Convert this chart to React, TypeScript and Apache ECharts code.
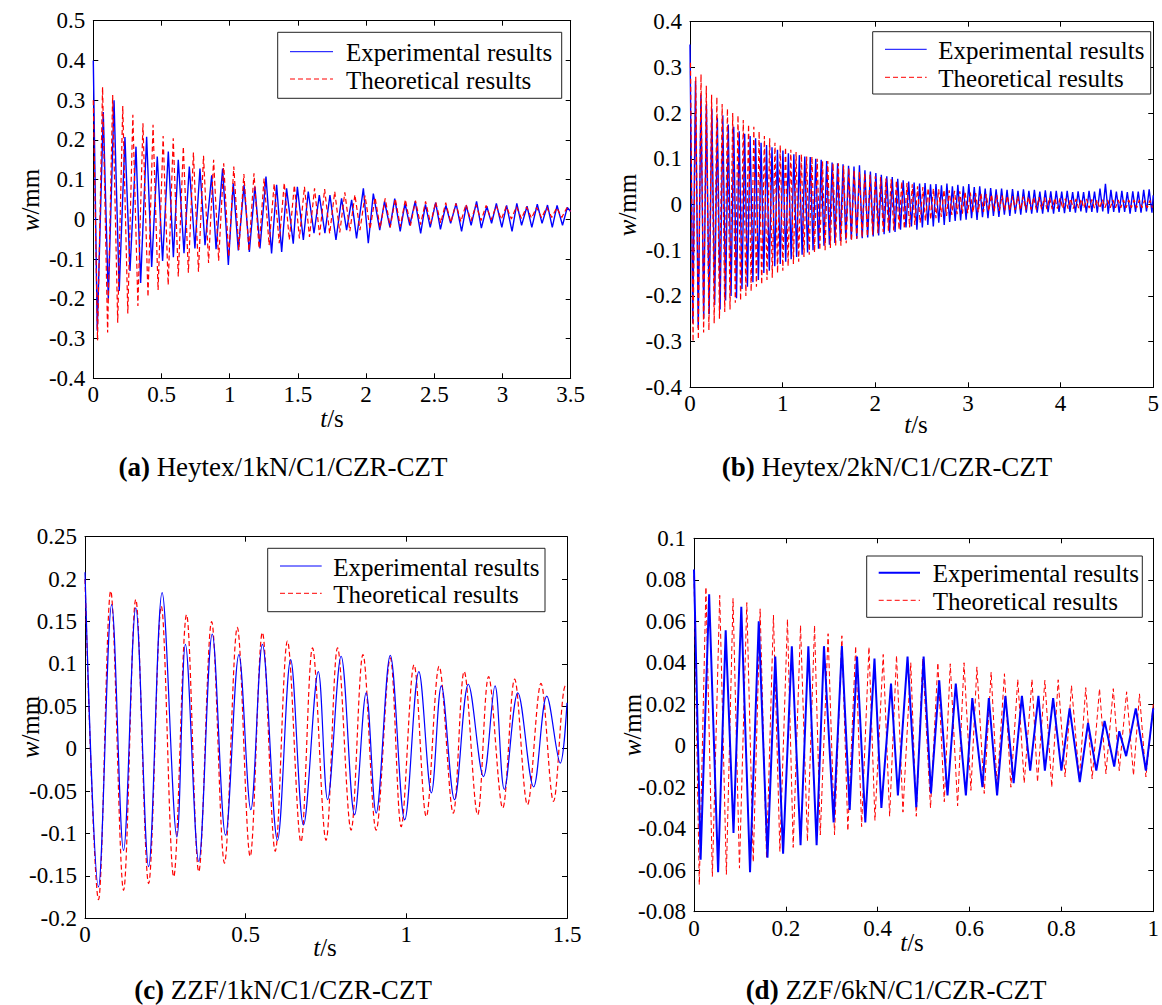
import React, { useEffect, useRef } from "react";
import * as echarts from "echarts";

const FONT = '"Liberation Serif", "Times New Roman", serif';
const BLUE = "#0000ff";
const RED = "#ff0000";

// ---------- panel captions / legend labels ----------
const captionLetters = ["(a)", "(b)", "(c)", "(d)"];
const captionTexts = [
  " Heytex/1kN/C1/CZR-CZT",
  " Heytex/2kN/C1/CZR-CZT",
  " ZZF/1kN/C1/CZR-CZT",
  " ZZF/6kN/C1/CZR-CZT",
];
const legendLabels = ["Experimental results", "Theoretical results"];

// ---------- axis ranges [min, max, interval] ----------
const xRanges = [
  [0, 3.5, 0.5],
  [0, 5, 1],
  [0, 1.5, 0.5],
  [0, 1, 0.2],
];
const yRanges = [
  [-0.4, 0.5, 0.1],
  [-0.4, 0.4, 0.1],
  [-0.2, 0.25, 0.05],
  [-0.08, 0.1, 0.02],
];

// ---------- (a) Heytex/1kN : [t (s), w (mm)] ----------
const aExperimental = [
  [0, 0.40], [0.029, -0.28], [0.073, 0.27], [0.11, -0.20], [0.152, 0.30], [0.19, -0.18], [0.232, 0.207], [0.269, -0.13],
  [0.313, 0.183], [0.347, -0.16], [0.391, 0.208], [0.428, -0.12], [0.469, 0.158], [0.508, -0.105], [0.55, 0.171], [0.587, -0.095],
  [0.623, 0.15], [0.665, -0.085], [0.704, 0.133], [0.745, -0.073], [0.782, 0.128], [0.819, -0.065], [0.868, 0.111], [0.9, -0.075],
  [0.948, 0.128], [0.99, -0.115], [1.026, 0.091], [1.063, -0.078], [1.105, 0.087], [1.144, -0.082], [1.185, 0.082], [1.222, -0.073],
  [1.266, 0.108], [1.307, -0.086], [1.344, 0.087], [1.381, -0.082], [1.417, 0.078], [1.466, -0.061], [1.496, 0.082], [1.54, -0.052],
  [1.576, 0.07], [1.618, -0.035], [1.657, 0.061], [1.698, -0.035], [1.735, 0.061], [1.779, -0.052], [1.82, 0.053], [1.857, -0.027],
  [1.894, 0.049], [1.93, -0.048], [1.98, 0.078], [2.016, -0.06], [2.053, 0.065], [2.10, -0.027], [2.135, 0.045], [2.175, -0.020],
  [2.21, 0.052], [2.25, -0.03], [2.285, 0.040], [2.32, -0.015], [2.36, 0.045], [2.40, -0.035], [2.435, 0.038], [2.47, -0.02],
  [2.51, 0.042], [2.545, -0.025], [2.585, 0.035], [2.62, -0.01], [2.66, 0.04], [2.70, -0.03], [2.735, 0.035], [2.77, -0.015],
  [2.81, 0.045], [2.845, -0.022], [2.885, 0.033], [2.92, -0.01], [2.955, 0.040], [2.995, -0.02], [3.03, 0.035], [3.07, -0.03],
  [3.105, 0.04], [3.14, -0.015], [3.18, 0.033], [3.215, -0.02], [3.255, 0.038], [3.29, -0.01], [3.33, 0.036], [3.365, -0.02],
  [3.40, 0.035], [3.44, -0.015], [3.475, 0.030], [3.5, 0.02],
];
const aTheoretical = [
  [0, 0.30], [0.031, -0.304], [0.068, 0.333], [0.105, -0.285], [0.142, 0.313], [0.179, -0.260], [0.216, 0.285], [0.253, -0.237],
  [0.290, 0.263], [0.327, -0.218], [0.364, 0.242], [0.401, -0.195], [0.438, 0.238], [0.475, -0.178], [0.512, 0.210], [0.549, -0.165],
  [0.586, 0.204], [0.623, -0.144], [0.660, 0.183], [0.697, -0.134], [0.734, 0.168], [0.771, -0.132], [0.808, 0.160], [0.845, -0.110],
  [0.882, 0.150], [0.919, -0.104], [0.956, 0.141], [0.993, -0.094], [1.030, 0.133], [1.067, -0.077], [1.104, 0.114], [1.141, -0.079],
  [1.178, 0.116], [1.215, -0.073], [1.252, 0.103], [1.289, -0.065], [1.326, 0.090], [1.363, -0.060], [1.400, 0.092], [1.437, -0.052],
  [1.474, 0.086], [1.511, -0.048], [1.548, 0.082], [1.585, -0.044], [1.622, 0.078], [1.659, -0.040], [1.696, 0.076], [1.733, -0.036],
  [1.770, 0.070], [1.807, -0.033], [1.844, 0.068], [1.881, -0.030], [1.918, 0.062], [1.955, -0.027], [1.992, 0.060], [2.029, -0.025],
  [2.066, 0.055], [2.103, -0.022], [2.140, 0.053], [2.177, -0.020], [2.214, 0.052], [2.251, -0.018], [2.288, 0.050], [2.325, -0.016],
  [2.362, 0.047], [2.399, -0.013], [2.436, 0.045], [2.473, -0.011], [2.510, 0.044], [2.547, -0.009], [2.584, 0.042], [2.621, -0.008],
  [2.658, 0.040], [2.695, -0.006], [2.732, 0.038], [2.769, -0.004], [2.806, 0.037], [2.843, -0.003], [2.880, 0.035], [2.917, -0.001],
  [2.954, 0.034], [2.991, 0.000], [3.028, 0.033], [3.065, 0.001], [3.102, 0.032], [3.139, 0.002], [3.176, 0.031], [3.213, 0.003],
  [3.250, 0.030], [3.287, 0.004], [3.324, 0.030], [3.361, 0.005], [3.398, 0.029], [3.435, 0.005], [3.472, 0.029], [3.5, 0.02],
];

// ---------- (b) Heytex/2kN ----------
const bExperimental = [
  [0, 0.35], [0.030, -0.26], [0.059, 0.27], [0.089, -0.27], [0.118, 0.24], [0.148, -0.25], [0.177, 0.22], [0.207, -0.24],
  [0.236, 0.21], [0.266, -0.22], [0.295, 0.19], [0.325, -0.23], [0.354, 0.195], [0.384, -0.21], [0.413, 0.175], [0.443, -0.20],
  [0.472, 0.17], [0.502, -0.205], [0.531, 0.16], [0.561, -0.185], [0.590, 0.155], [0.620, -0.18], [0.649, 0.15], [0.679, -0.17],
  [0.708, 0.145], [0.738, -0.165], [0.767, 0.135], [0.797, -0.15], [0.826, 0.13], [0.856, -0.145], [0.885, 0.125], [0.915, -0.135],
  [0.944, 0.12], [0.974, -0.13], [1.003, 0.118], [1.033, -0.125], [1.062, 0.112], [1.092, -0.12], [1.121, 0.11], [1.151, -0.115],
  [1.180, 0.108], [1.210, -0.11], [1.239, 0.105], [1.269, -0.105], [1.298, 0.104], [1.328, -0.10], [1.357, 0.10], [1.387, -0.097],
  [1.416, 0.098], [1.446, -0.09], [1.475, 0.095], [1.505, -0.088], [1.534, 0.092], [1.564, -0.084], [1.593, 0.09], [1.623, -0.08],
  [1.652, 0.088], [1.682, -0.077], [1.711, 0.085], [1.741, -0.076], [1.770, 0.083], [1.800, -0.075], [1.829, 0.086], [1.859, -0.074],
  [1.888, 0.075], [1.918, -0.072], [1.947, 0.072], [1.977, -0.07], [2.006, 0.069], [2.036, -0.068], [2.065, 0.065], [2.095, -0.065],
  [2.124, 0.062], [2.154, -0.062], [2.183, 0.06], [2.213, -0.06], [2.242, 0.056], [2.272, -0.055], [2.301, 0.053], [2.331, -0.05],
  [2.360, 0.05], [2.390, -0.048], [2.419, 0.048], [2.449, -0.055], [2.478, 0.046], [2.508, -0.05], [2.537, 0.047], [2.567, -0.045],
  [2.596, 0.044], [2.626, -0.048], [2.655, 0.045], [2.685, -0.04], [2.714, 0.042], [2.744, -0.045], [2.773, 0.046], [2.803, -0.038],
  [2.832, 0.04], [2.862, -0.036], [2.891, 0.043], [2.921, -0.035], [2.950, 0.04], [2.980, -0.033], [3.009, 0.045], [3.039, -0.03],
  [3.068, 0.038], [3.098, -0.034], [3.127, 0.04], [3.157, -0.028], [3.186, 0.035], [3.216, -0.03], [3.245, 0.036], [3.275, -0.025],
  [3.304, 0.033], [3.334, -0.027], [3.363, 0.035], [3.393, -0.022], [3.422, 0.032], [3.452, -0.025], [3.481, 0.034], [3.511, -0.02],
  [3.540, 0.03], [3.570, -0.022], [3.599, 0.033], [3.629, -0.018], [3.658, 0.03], [3.688, -0.02], [3.717, 0.032], [3.747, -0.018],
  [3.776, 0.028], [3.806, -0.02], [3.835, 0.031], [3.865, -0.017], [3.894, 0.029], [3.924, -0.02], [3.953, 0.03], [3.983, -0.016],
  [4.012, 0.028], [4.042, -0.019], [4.071, 0.03], [4.101, -0.016], [4.130, 0.027], [4.160, -0.018], [4.189, 0.029], [4.219, -0.015],
  [4.248, 0.027], [4.278, -0.018], [4.307, 0.03], [4.337, -0.016], [4.366, 0.028], [4.396, -0.018], [4.425, 0.035], [4.455, -0.015],
  [4.484, 0.045], [4.514, -0.02], [4.543, 0.032], [4.573, -0.016], [4.602, 0.028], [4.632, -0.018], [4.661, 0.03], [4.691, -0.016],
  [4.720, 0.027], [4.750, -0.02], [4.779, 0.029], [4.809, -0.016], [4.838, 0.028], [4.868, -0.018], [4.897, 0.032], [4.927, -0.015],
  [4.956, 0.033], [4.986, -0.018], [5.0, 0.02],
];
const bTheoretical = [
  [0.005, 0.31], [0.033, -0.30], [0.062, 0.28], [0.090, -0.295], [0.119, 0.285], [0.147, -0.28], [0.176, 0.26], [0.204, -0.275],
  [0.233, 0.24], [0.261, -0.26], [0.290, 0.235], [0.318, -0.25], [0.347, 0.22], [0.375, -0.235], [0.404, 0.21], [0.432, -0.23],
  [0.461, 0.20], [0.489, -0.215], [0.518, 0.195], [0.546, -0.21], [0.575, 0.185], [0.603, -0.20], [0.632, 0.175], [0.660, -0.19],
  [0.689, 0.17], [0.717, -0.18], [0.746, 0.16], [0.774, -0.175], [0.803, 0.15], [0.831, -0.165], [0.860, 0.145], [0.888, -0.16],
  [0.917, 0.135], [0.945, -0.15], [0.974, 0.13], [1.002, -0.145], [1.031, 0.125], [1.059, -0.135], [1.088, 0.12], [1.116, -0.13],
  [1.145, 0.115], [1.173, -0.125], [1.202, 0.11], [1.230, -0.115], [1.259, 0.105], [1.287, -0.11], [1.316, 0.105], [1.344, -0.105],
  [1.373, 0.10], [1.401, -0.10], [1.430, 0.095], [1.458, -0.10], [1.487, 0.095], [1.515, -0.095], [1.544, 0.09], [1.572, -0.09],
  [1.601, 0.09], [1.629, -0.09], [1.658, 0.085], [1.686, -0.085], [1.715, 0.08], [1.743, -0.08], [1.772, 0.075], [1.800, -0.075],
  [1.829, 0.072], [1.857, -0.072], [1.886, 0.068], [1.914, -0.07], [1.943, 0.065], [1.971, -0.066], [2.000, 0.062], [2.028, -0.063],
  [2.057, 0.06], [2.085, -0.06], [2.114, 0.057], [2.142, -0.058], [2.171, 0.055], [2.199, -0.057], [2.228, 0.052], [2.256, -0.055],
  [2.285, 0.05], [2.313, -0.053], [2.342, 0.047], [2.370, -0.05], [2.399, 0.044], [2.427, -0.045], [2.456, 0.04], [2.484, -0.04],
  [2.513, 0.038], [2.541, -0.036], [2.570, 0.036], [2.598, -0.033], [2.627, 0.035], [2.655, -0.03], [2.684, 0.033], [2.712, -0.027],
  [2.741, 0.032], [2.769, -0.025], [2.798, 0.031], [2.826, -0.023], [2.855, 0.03], [2.883, -0.021], [2.912, 0.029], [2.940, -0.02],
  [2.969, 0.028], [2.997, -0.019], [3.026, 0.026], [3.054, -0.018], [3.083, 0.025], [3.111, -0.017], [3.140, 0.024], [3.168, -0.016],
  [3.197, 0.023], [3.225, -0.015], [3.254, 0.022], [3.282, -0.015], [3.311, 0.021], [3.339, -0.014], [3.368, 0.02], [3.396, -0.013],
  [3.425, 0.019], [3.453, -0.013], [3.482, 0.018], [3.510, -0.012], [3.539, 0.018], [3.567, -0.012], [3.596, 0.017], [3.624, -0.011],
  [3.653, 0.017], [3.681, -0.011], [3.710, 0.016], [3.738, -0.011], [3.767, 0.016], [3.795, -0.010], [3.824, 0.015], [3.852, -0.010],
  [3.881, 0.015], [3.909, -0.010], [3.938, 0.014], [3.966, -0.009], [3.995, 0.014], [4.023, -0.009], [4.052, 0.013], [4.080, -0.009],
  [4.109, 0.013], [4.137, -0.009], [4.166, 0.012], [4.194, -0.008], [4.223, 0.012], [4.251, -0.008], [4.280, 0.012], [4.308, -0.008],
  [4.337, 0.011], [4.365, -0.008], [4.394, 0.011], [4.422, -0.008], [4.451, 0.011], [4.479, -0.007], [4.508, 0.010], [4.536, -0.007],
  [4.565, 0.010], [4.593, -0.007], [4.622, 0.010], [4.650, -0.007], [4.679, 0.010], [4.707, -0.007], [4.736, 0.010], [4.764, -0.007],
  [4.793, 0.010], [4.821, -0.007], [4.850, 0.010], [4.878, -0.007], [4.907, 0.009], [4.935, -0.007], [4.964, 0.009], [4.992, -0.007],
];

// ---------- (c) ZZF/1kN ----------
const cExperimental = [
  [0, 0.208], [0.042, -0.163], [0.083, 0.170], [0.12, -0.12], [0.158, 0.166], [0.198, -0.139], [0.24, 0.184], [0.286, -0.104],
  [0.3125, 0.123], [0.354, -0.133], [0.396, 0.135], [0.4375, -0.102], [0.479, 0.111], [0.516, -0.072], [0.552, 0.123], [0.599, -0.108],
  [0.64, 0.105], [0.68, -0.09], [0.726, 0.091], [0.755, -0.06], [0.797, 0.109], [0.839, -0.078], [0.875, 0.066], [0.906, -0.076],
  [0.95, 0.11], [0.995, -0.084], [1.039, 0.091], [1.078, -0.052], [1.109, 0.074], [1.15, -0.06], [1.193, 0.076], [1.24, -0.033],
  [1.276, 0.074], [1.305, -0.048], [1.347, 0.066], [1.396, -0.045], [1.437, 0.062], [1.479, -0.017], [1.5, 0.054],
];
const cTheoretical = [
  [0, 0.2], [0.042, -0.178], [0.080, 0.186], [0.12, -0.167], [0.158, 0.176], [0.198, -0.159], [0.2375, 0.168], [0.276, -0.151],
  [0.316, 0.158], [0.354, -0.145], [0.394, 0.150], [0.434, -0.135], [0.474, 0.143], [0.514, -0.127], [0.552, 0.137], [0.592, -0.121],
  [0.630, 0.127], [0.672, -0.11], [0.708, 0.119], [0.75, -0.108], [0.786, 0.119], [0.828, -0.096], [0.865, 0.111], [0.906, -0.096],
  [0.95, 0.107], [0.984, -0.092], [1.024, 0.099], [1.062, -0.08], [1.102, 0.097], [1.146, -0.076], [1.18, 0.091], [1.222, -0.078],
  [1.256, 0.085], [1.3, -0.07], [1.337, 0.082], [1.377, -0.066], [1.419, 0.077], [1.458, -0.062], [1.495, 0.074], [1.5, 0.072],
];

// ---------- (d) ZZF/6kN ----------
const dExperimental = [
  [0, 0.085], [0.0144, -0.055], [0.033, 0.073], [0.0525, -0.061], [0.069, 0.0556], [0.086, -0.042], [0.103, 0.067], [0.122, -0.061],
  [0.141, 0.060], [0.160, -0.054], [0.177, 0.043], [0.194, -0.052], [0.213, 0.048], [0.232, -0.048], [0.249, 0.048], [0.267, -0.048],
  [0.283, 0.048], [0.304, -0.037], [0.322, 0.048], [0.339, -0.031], [0.355, 0.043], [0.373, -0.037], [0.393, 0.042], [0.408, -0.030],
  [0.429, 0.030], [0.444, -0.024], [0.465, 0.043], [0.484, -0.0296], [0.500, 0.043], [0.516, -0.023], [0.534, 0.0315], [0.552, -0.024],
  [0.570, 0.030], [0.592, -0.024], [0.606, 0.023], [0.628, -0.020], [0.642, 0.023], [0.660, -0.024], [0.678, 0.024], [0.696, -0.018],
  [0.714, 0.024], [0.732, -0.012], [0.75, 0.024], [0.764, -0.012], [0.782, 0.023], [0.80, -0.012], [0.818, 0.018], [0.84, -0.0175],
  [0.858, 0.011], [0.876, -0.012], [0.894, 0.012], [0.915, -0.010], [0.926, 0.007], [0.941, -0.005], [0.962, 0.018], [0.984, -0.012],
  [1.0, 0.018],
];
const dTheoretical = [
  [0, 0.082], [0.0115, -0.067], [0.026, 0.0765], [0.040, -0.063], [0.056, 0.0725], [0.0705, -0.062], [0.085, 0.071], [0.099, -0.059],
  [0.115, 0.069], [0.129, -0.056], [0.144, 0.066], [0.158, -0.054], [0.173, 0.063], [0.187, -0.051], [0.2035, 0.061], [0.216, -0.049],
  [0.232, 0.058], [0.247, -0.046], [0.2625, 0.058], [0.275, -0.043], [0.292, 0.054], [0.306, -0.043], [0.322, 0.053], [0.335, -0.041],
  [0.352, 0.048], [0.365, -0.039], [0.381, 0.0476], [0.394, -0.036], [0.412, 0.044], [0.426, -0.034], [0.441, 0.0435], [0.455, -0.032],
  [0.472, 0.040], [0.484, -0.034], [0.498, 0.042], [0.515, -0.030], [0.531, 0.040], [0.545, -0.027], [0.558, 0.0395], [0.574, -0.029],
  [0.588, 0.040], [0.603, -0.0215], [0.616, 0.038], [0.632, -0.023], [0.647, 0.0355], [0.66, -0.020], [0.676, 0.0347], [0.69, -0.020],
  [0.705, 0.032], [0.719, -0.018], [0.736, 0.032], [0.748, -0.0175], [0.764, 0.0315], [0.779, -0.02], [0.793, 0.0318], [0.808, -0.015],
  [0.822, 0.029], [0.839, -0.016], [0.853, 0.028], [0.867, -0.016], [0.883, 0.0275], [0.897, -0.0135], [0.913, 0.0275], [0.926, -0.012],
  [0.942, 0.026], [0.957, -0.0143], [0.970, 0.025], [0.984, -0.015], [1.0, 0.02],
];

const experimentalSeries = [aExperimental, bExperimental, cExperimental, dExperimental];
const theoreticalSeries = [aTheoretical, bTheoretical, cTheoretical, dTheoretical];

// ---------- layout (styling only) ----------
const grids = [
  { left: 93.3, top: 20.7, width: 477.4, height: 357.6 },
  { left: 690, top: 21.7, width: 471.5, height: 365.6 },
  { left: 85, top: 536.7, width: 482, height: 381.6 },
  { left: 694, top: 538.3, width: 463.5, height: 373.4 },
];
const legendBoxes = [
  { x: 277.7, y: 32.3, w: 284, h: 66, lx1: 290, lx2: 333, y1: 51.7, y2: 79, tx: 346, bw: 1 },
  { x: 872.7, y: 31.7, w: 278, h: 62.3, lx1: 885, lx2: 926.7, y1: 49.3, y2: 77.3, tx: 938.3, bw: 1 },
  { x: 267.7, y: 548.3, w: 277.3, h: 63.4, lx1: 280, lx2: 321.7, y1: 566, y2: 593.3, tx: 333.3, bw: 1 },
  { x: 866.7, y: 556, w: 275.6, h: 61.3, lx1: 878.7, lx2: 920, y1: 572.7, y2: 600.3, tx: 932.7, bw: 2 },
];
const yNamePos = [
  [30, 200], [627, 205], [30, 727], [632, 725],
];
const xNamePos = [
  [332, 418], [916, 424], [325, 947], [912, 942],
];
const captionPos = [
  [283, 467], [887, 467], [283, 990], [896, 990],
];
const expWidth = [1.4, 1.4, 1.2, 2];
const theoWidth = [1.2, 1.2, 1.2, 1];
const smoothing = [false, false, 0.35, false];

function buildOption() {
  const xAxis: any[] = [];
  const yAxis: any[] = [];
  const series: any[] = [];
  const graphic: any[] = [];
  const labelStyle = { color: "#000", fontFamily: FONT, fontSize: 23 };

  grids.forEach((g, i) => {
    const [xmin, xmax, xint] = xRanges[i];
    const [ymin, ymax, yint] = yRanges[i];
    const common = (pos: string, showLabel: boolean, min: number, max: number, interval: number, margin: number) => ({
      type: "value",
      gridIndex: i,
      position: pos,
      min,
      max,
      interval,
      axisLine: { show: true, onZero: false, lineStyle: { color: "#000", width: 1 } },
      axisTick: { show: true, inside: true, length: 5, lineStyle: { color: "#000", width: 1 } },
      axisLabel: { show: showLabel, margin, ...labelStyle },
      splitLine: { show: false },
    });
    xAxis.push(common("bottom", true, xmin, xmax, xint, 5));
    xAxis.push(common("top", false, xmin, xmax, xint, 5));
    yAxis.push(common("left", true, ymin, ymax, yint, 8));
    yAxis.push(common("right", false, ymin, ymax, yint, 8));

    const expS = {
      type: "line",
      name: legendLabels[0],
      xAxisIndex: 2 * i,
      yAxisIndex: 2 * i,
      data: experimentalSeries[i],
      showSymbol: false,
      symbol: "none",
      smooth: smoothing[i],
      lineStyle: { color: BLUE, width: expWidth[i] },
      z: i >= 2 ? 3 : 2,
    };
    const theoS = {
      type: "line",
      name: legendLabels[1],
      xAxisIndex: 2 * i,
      yAxisIndex: 2 * i,
      data: theoreticalSeries[i],
      showSymbol: false,
      symbol: "none",
      smooth: smoothing[i],
      lineStyle: { color: RED, width: theoWidth[i], type: [5, 3] },
      z: i >= 2 ? 2 : 3,
    };
    series.push(expS, theoS);

    // legend box
    const lb = legendBoxes[i];
    graphic.push({
      type: "rect",
      z: 100,
      shape: { x: lb.x, y: lb.y, width: lb.w, height: lb.h },
      style: { fill: "#fff", stroke: "#222", lineWidth: 1 },
    });
    graphic.push({
      type: "line",
      z: 101,
      shape: { x1: lb.lx1, y1: lb.y1, x2: lb.lx2, y2: lb.y1 },
      style: { stroke: BLUE, lineWidth: lb.bw },
    });
    graphic.push({
      type: "line",
      z: 101,
      shape: { x1: lb.lx1, y1: lb.y2, x2: lb.lx2, y2: lb.y2 },
      style: { stroke: RED, lineWidth: 1, lineDash: [5, 3] },
    });
    graphic.push({
      type: "text",
      z: 101,
      x: lb.tx,
      y: lb.y1 + 1,
      style: { text: legendLabels[0], fontFamily: FONT, fontSize: 25, fill: "#000", verticalAlign: "middle", align: "left" },
    });
    graphic.push({
      type: "text",
      z: 101,
      x: lb.tx,
      y: lb.y2 + 1,
      style: { text: legendLabels[1], fontFamily: FONT, fontSize: 25, fill: "#000", verticalAlign: "middle", align: "left" },
    });

    // axis names
    graphic.push({
      type: "text",
      z: 101,
      x: yNamePos[i][0],
      y: yNamePos[i][1],
      rotation: Math.PI / 2,
      style: {
        text: "{it|w}/mm",
        fontFamily: FONT,
        fontSize: 25,
        fill: "#000",
        align: "center",
        verticalAlign: "middle",
        rich: { it: { fontStyle: "italic", fontFamily: FONT, fontSize: 25, fill: "#000" } },
      },
    });
    graphic.push({
      type: "text",
      z: 101,
      x: xNamePos[i][0],
      y: xNamePos[i][1],
      style: {
        text: "{it|t}/s",
        fontFamily: FONT,
        fontSize: 25,
        fill: "#000",
        align: "center",
        verticalAlign: "middle",
        rich: { it: { fontStyle: "italic", fontFamily: FONT, fontSize: 25, fill: "#000" } },
      },
    });
    // caption
    graphic.push({
      type: "text",
      z: 101,
      x: captionPos[i][0],
      y: captionPos[i][1],
      style: {
        text: "{b|" + captionLetters[i] + "}" + captionTexts[i],
        fontFamily: FONT,
        fontSize: 27,
        fill: "#000",
        align: "center",
        verticalAlign: "middle",
        rich: { b: { fontWeight: "bold", fontFamily: FONT, fontSize: 27, fill: "#000" } },
      },
    });
  });

  return {
    animation: false,
    backgroundColor: "#fff",
    grid: grids.map((g) => ({ ...g, containLabel: false })),
    xAxis,
    yAxis,
    series,
    graphic,
  };
}

export default function App() {
  const ref = useRef<HTMLDivElement>(null);
  useEffect(() => {
    if (!ref.current) return;
    const chart = echarts.init(ref.current, null, { renderer: "svg" });
    chart.setOption(buildOption() as any);
    return () => chart.dispose();
  }, []);
  return (
    <div
      ref={ref}
      style={{ position: "absolute", left: 0, top: 0, width: 1162, height: 1005, background: "#fff" }}
    />
  );
}
